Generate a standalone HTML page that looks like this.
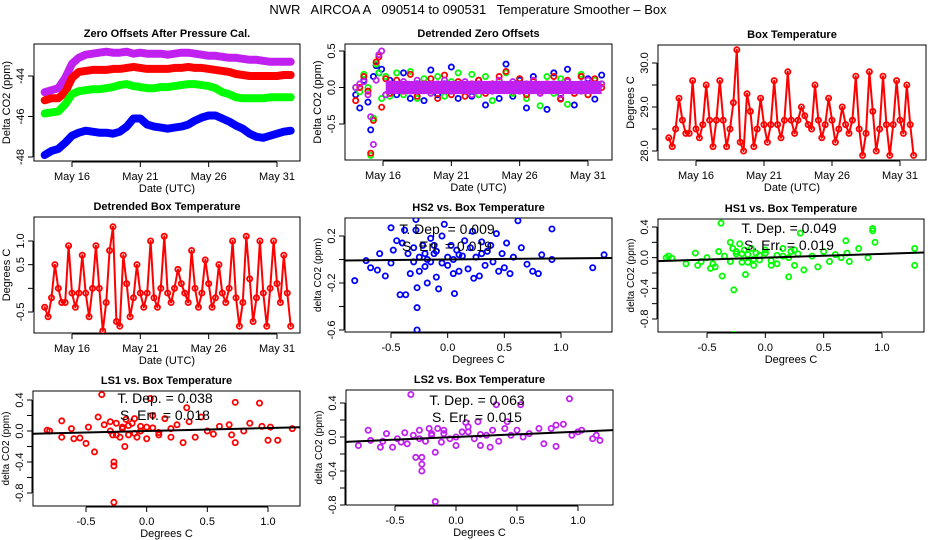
<!DOCTYPE html>
<html><head><meta charset="utf-8"><style>
html,body{margin:0;padding:0;background:#fff;}
svg{display:block;font-family:"Liberation Sans",sans-serif;}
</style></head><body>
<svg id="c" width="936" height="540" viewBox="0 0 936 540">
<text x="468" y="14" text-anchor="middle" font-size="13" style="white-space:pre">NWR   AIRCOA A   090514 to 090531   Temperature Smoother – Box</text>
</svg>
<script>
// ---- data ----
const zoStartDay = 14.0, zoStep = 0.5;
const zoPurple=[-44.8,-44.7,-44.6,-44.1,-43.4,-43.1,-42.95,-42.9,-42.85,-42.8,-42.85,-42.85,-42.8,-42.9,-42.85,-42.9,-42.9,-42.9,-42.95,-42.9,-42.85,-42.85,-42.9,-42.95,-43.0,-43.0,-43.05,-43.1,-43.1,-43.15,-43.2,-43.2,-43.25,-43.3,-43.3,-43.3,-43.3];
const zoRed=[-45.2,-45.1,-45.1,-44.8,-44.1,-43.8,-43.75,-43.7,-43.7,-43.7,-43.65,-43.65,-43.6,-43.55,-43.6,-43.65,-43.65,-43.65,-43.65,-43.6,-43.6,-43.55,-43.6,-43.6,-43.65,-43.7,-43.75,-43.8,-43.9,-43.95,-44.0,-44.0,-44.0,-44.0,-44.0,-43.95,-43.95];
const zoGreen=[-45.85,-45.8,-45.75,-45.4,-44.9,-44.75,-44.7,-44.65,-44.65,-44.6,-44.55,-44.45,-44.4,-44.5,-44.55,-44.6,-44.6,-44.55,-44.55,-44.5,-44.45,-44.4,-44.4,-44.45,-44.5,-44.6,-44.8,-44.9,-45.05,-45.1,-45.1,-45.1,-45.1,-45.05,-45.05,-45.05,-45.05];
const zoBlue=[-47.9,-47.7,-47.6,-47.3,-46.95,-46.8,-46.7,-46.75,-46.8,-46.8,-46.85,-46.75,-46.5,-46.1,-46.1,-46.4,-46.5,-46.55,-46.6,-46.55,-46.5,-46.4,-46.2,-46.05,-45.95,-45.95,-46.1,-46.25,-46.45,-46.6,-46.85,-47.0,-47.05,-46.95,-46.85,-46.75,-46.7];
const dzDays=[14.0,14.3,14.6,14.9,15.1,15.3,15.5,15.7,15.9,16.2,16.5,17.0,17.5,18.0,18.5,19.0,19.5,20.0,20.5,21.0,21.5,22.0,22.5,23.0,23.5,24.0,24.5,25.0,25.5,26.0,26.5,27.0,27.5,28.0,28.5,29.0,29.5,30.0,30.5,31.0,31.5,32.0];
const dzBlue=[-0.1,-0.28,0.1,-0.2,-0.58,0.15,0.3,0.2,0.25,-0.1,0.1,-0.1,0.2,-0.15,0.05,-0.18,0.24,-0.1,0.05,0.28,-0.15,0.0,-0.12,0.1,-0.24,0.0,-0.15,0.32,-0.12,0.1,-0.28,0.15,-0.05,-0.3,0.2,-0.15,0.25,-0.24,0.05,0.12,-0.16,0.17];
const dzRed=[-0.18,0.0,0.15,-0.05,-0.9,-0.45,0.35,0.42,-0.27,0.12,-0.08,0.1,-0.05,0.18,-0.12,0.05,0.12,-0.15,0.17,-0.1,0.08,-0.12,0.05,0.1,-0.08,0.05,0.15,0.22,-0.05,0.12,-0.1,0.08,-0.05,0.05,0.15,-0.16,0.1,-0.08,0.15,-0.1,0.12,0.0];
const dzGreen=[0.0,-0.06,0.18,0.0,-0.93,-0.42,0.32,0.2,-0.15,0.15,-0.12,0.2,-0.1,0.22,-0.15,0.12,-0.05,0.15,-0.12,0.08,0.2,-0.05,0.18,-0.1,0.15,-0.18,0.05,0.2,-0.08,0.12,-0.15,0.1,-0.25,0.15,-0.08,0.12,-0.23,0.0,0.18,-0.1,0.1,0.05];
const dzPurple=[0.0,0.05,0.08,-0.1,-0.4,-0.78,0.1,0.45,0.5,-0.1,0.05,0.0,0.08,-0.05,0.1,0.0,-0.08,0.05,0.1,-0.05,0.0,0.08,-0.1,0.05,0.0,-0.05,0.1,0.0,0.08,-0.05,0.05,0.1,-0.08,0.0,0.05,-0.1,0.08,0.0,-0.05,0.1,0.0,0.05];
const tStartDay=14.0, tStep=0.25;
const boxTemp=[28.3,28.1,28.5,29.2,28.7,28.4,28.4,29.6,28.5,28.3,28.6,29.5,28.7,28.1,28.7,29.6,28.7,28.1,28.5,29.1,30.3,28.2,28.0,29.3,28.9,28.1,28.5,29.2,28.6,28.2,28.6,29.6,28.6,28.3,28.7,29.8,28.7,28.4,28.7,29.0,28.8,28.6,28.5,29.5,28.7,28.3,28.6,29.2,28.7,28.2,28.5,29.0,28.6,28.4,28.7,29.7,28.5,27.9,28.4,29.8,28.9,28.0,28.5,29.7,28.6,27.9,28.6,29.6,28.7,28.4,29.5,28.6,27.9];
const detTemp=[-0.4,-0.6,-0.2,0.5,0.0,-0.3,-0.3,0.9,-0.1,-0.4,-0.1,0.7,-0.1,-0.6,0.0,0.9,0.0,-0.9,-0.3,0.8,1.3,-0.7,-0.8,0.7,0.1,-0.6,-0.2,0.5,-0.1,-0.4,-0.1,1.0,-0.2,-0.4,0.0,1.1,-0.1,-0.3,0.0,0.4,0.1,-0.1,-0.3,0.8,0.0,-0.4,-0.1,0.6,0.1,-0.4,-0.2,0.5,-0.1,-0.3,0.0,1.0,-0.2,-0.8,-0.3,1.1,0.2,-0.7,-0.2,1.0,-0.1,-0.8,0.0,1.0,0.1,-0.3,0.7,-0.1,-0.8];
const hs2x=[-0.82,-0.72,-0.68,-0.62,-0.6,-0.55,-0.5,-0.5,-0.48,-0.45,-0.42,-0.4,-0.38,-0.37,-0.35,-0.33,-0.3,-0.28,-0.28,-0.27,-0.27,-0.27,-0.25,-0.22,-0.2,-0.18,-0.15,-0.12,-0.1,-0.08,-0.05,-0.03,0.0,0.03,0.05,0.06,0.08,0.1,0.13,0.15,0.18,0.2,0.22,0.23,0.25,0.28,0.3,0.33,0.35,0.38,0.4,0.43,0.45,0.48,0.5,0.52,0.55,0.58,0.62,0.65,0.7,0.75,0.8,0.83,0.92,0.92,1.28,1.38,-0.2,-0.15,-0.1,-0.05,0.0,-0.25,-0.3,-0.12,0.1,0.3,-0.18,0.05];
const hs2y=[-0.18,-0.01,-0.07,-0.09,0.05,-0.14,0.27,-0.03,0.08,0.16,-0.3,0.14,0.25,-0.3,0.05,-0.12,0.1,0.34,0.25,-0.41,-0.6,-0.24,0.02,0.12,-0.06,-0.2,0.18,0.05,-0.15,-0.25,0.2,0.3,-0.05,0.12,-0.12,-0.29,0.08,-0.1,0.03,0.16,-0.08,0.1,0.24,-0.16,0.02,-0.14,0.15,-0.05,0.07,0.12,-0.02,0.22,-0.1,0.05,-0.07,0.14,-0.12,0.02,0.33,0.1,-0.04,-0.1,-0.12,0.04,0.26,0.0,-0.07,0.04,0.05,-0.02,0.07,-0.03,0.02,-0.1,-0.02,0.12,0.04,0.05,0.0,0.0];
const hs1x=[-0.85,-0.83,-0.8,-0.68,-0.6,-0.58,-0.55,-0.5,-0.47,-0.45,-0.43,-0.4,-0.38,-0.37,-0.35,-0.3,-0.28,-0.27,-0.27,-0.25,-0.22,-0.2,-0.18,-0.17,-0.15,-0.12,-0.1,-0.08,-0.05,0.0,0.05,0.1,0.15,0.2,0.22,0.25,0.28,0.3,0.33,0.4,0.45,0.5,0.55,0.6,0.65,0.69,0.7,0.72,0.8,0.88,0.92,0.92,0.94,1.28,1.28,-0.3,-0.2,-0.1,0.0,0.1,0.2,-0.25,-0.15,-0.05,0.05,0.15,0.25];
const hs1y=[0.0,0.02,-0.01,-0.08,0.06,-0.1,-0.05,0.0,-0.14,-0.08,-0.12,0.08,0.45,-0.24,0.02,0.2,0.12,-0.42,-1.0,0.05,0.18,-0.06,0.1,-0.22,0.04,0.12,-0.1,0.06,-0.03,0.1,-0.04,0.03,0.12,-0.25,0.08,-0.1,0.05,0.32,-0.16,0.02,-0.12,0.08,-0.05,0.04,0.0,0.22,0.06,-0.05,0.12,0.0,0.38,0.35,0.2,0.12,-0.1,-0.05,0.05,-0.02,0.06,-0.08,0.0,0.08,-0.06,0.03,-0.1,0.02,0.1];
const ls1x=[-0.82,-0.8,-0.7,-0.7,-0.62,-0.6,-0.55,-0.5,-0.48,-0.43,-0.4,-0.37,-0.35,-0.3,-0.28,-0.27,-0.27,-0.27,-0.25,-0.22,-0.2,-0.18,-0.17,-0.15,-0.12,-0.1,-0.08,-0.05,0.0,0.03,0.05,0.1,0.15,0.2,0.25,0.3,0.33,0.35,0.4,0.45,0.5,0.55,0.6,0.68,0.7,0.73,0.73,0.8,0.85,0.93,0.95,1.0,1.02,1.08,1.2,-0.3,-0.2,-0.1,0.0,0.1,0.2,-0.25,-0.15,-0.05,0.05];
const ls1y=[0.01,0.0,0.13,-0.08,0.03,-0.1,-0.09,-0.16,0.05,-0.27,0.18,0.47,0.08,0.12,-0.05,-0.4,-0.45,-0.92,0.1,-0.08,0.05,-0.2,0.15,-0.05,0.1,0.16,-0.08,0.06,-0.1,0.42,0.2,-0.05,0.16,-0.08,0.08,-0.15,0.3,0.12,-0.08,0.18,0.0,-0.04,0.06,0.08,-0.05,0.37,-0.15,0.0,0.1,0.36,0.06,-0.12,0.05,-0.12,0.03,0.0,0.03,-0.03,0.05,-0.02,0.03,-0.05,0.07,0.0,0.04];
const ls2x=[-0.8,-0.72,-0.7,-0.62,-0.6,-0.57,-0.52,-0.48,-0.45,-0.42,-0.4,-0.37,-0.35,-0.33,-0.3,-0.28,-0.28,-0.28,-0.25,-0.22,-0.2,-0.17,-0.17,-0.15,-0.12,-0.1,-0.05,0.0,0.05,0.08,0.1,0.15,0.18,0.2,0.25,0.28,0.3,0.33,0.35,0.4,0.42,0.45,0.5,0.53,0.55,0.6,0.68,0.72,0.78,0.82,0.82,0.88,0.93,0.95,1.0,1.03,1.12,1.15,1.18,-0.3,-0.2,-0.1,0.0,0.1,0.2];
const ls2y=[-0.1,0.08,-0.04,-0.12,-0.05,0.04,-0.12,-0.02,-0.06,0.05,-0.08,0.5,0.02,-0.24,0.08,-0.4,-0.32,-0.24,-0.05,0.1,0.04,-0.76,-0.18,0.1,-0.06,0.08,-0.02,-0.1,0.06,0.17,0.12,-0.02,0.18,-0.1,0.02,-0.12,0.08,0.38,-0.05,0.1,0.18,0.02,0.08,0.38,0.0,0.04,0.1,-0.08,0.1,0.14,-0.11,0.15,0.45,0.02,0.06,0.08,-0.02,0.02,-0.04,-0.02,0.02,0.04,0.0,0.06,0.03];
const slopes=[0.009,0.049,0.038,0.063];
const stdErrs=[0.019,0.019,0.018,0.015];
const intercepts=[0.0,0.0,0.0,0.0];
const dateTicks=[16,21,26,31];
const dateTickLabels=["May 16","May 21","May 26","May 31"];
const degTicks=[-0.5,0,0.5,1.0];
const degTickLabels=["-0.5","0.0","0.5","1.0"];

// ---- drawing ----
const svg=document.getElementById('c');
const NS='http://www.w3.org/2000/svg';
function el(tag,attrs,parent){const e=document.createElementNS(NS,tag);for(const k in attrs)e.setAttribute(k,attrs[k]);(parent||svg).appendChild(e);return e;}
function lin(v0,p0,v1,p1){return v=>p0+(v-v0)*(p1-p0)/(v1-v0);}

function panel(cfg){
  const g=el('g',{});
  
  
  const b=cfg.box;
  const fx=lin(...cfg.xm), fy=lin(...cfg.ym);
  const r=el('rect',{x:b[0],y:b[1],width:b[2]-b[0],height:b[3]-b[1],fill:'none',stroke:'#000','stroke-width':1},g);
  
  
  const t=el('text',{x:(b[0]+b[2])/2,y:b[1]-7,'text-anchor':'middle','font-size':11,'font-weight':'bold'},g);
  t.textContent=cfg.title;
  
  
  const xs=cfg.xt.map(fx);
  el('line',{x1:xs[0],x2:xs[xs.length-1],y1:b[3]+1,y2:b[3]+1,stroke:'#000'},g);
  cfg.xt.forEach((v,i)=>{
    const x=fx(v);
    el('line',{x1:x,x2:x,y1:b[3]+1,y2:b[3]+6,stroke:'#000'},g);
    const tl=el('text',{x:x,y:b[3]+19,'text-anchor':'middle','font-size':11},g);
    tl.textContent=cfg.xl[i];
    
    
  });
  const xt=el('text',{x:(b[0]+b[2])/2,y:b[3]+31,'text-anchor':'middle','font-size':11},g);
  xt.textContent=cfg.xtitle;
  
  
  const ys=cfg.yt.map(fy);
  el('line',{x1:b[0]-1,x2:b[0]-1,y1:Math.min(...ys),y2:Math.max(...ys),stroke:'#000'},g);
  cfg.yt.forEach((v,i)=>{
    const y=fy(v);
    el('line',{x1:b[0]-6,x2:b[0]-1,y1:y,y2:y,stroke:'#000'},g);
    if(cfg.yl[i]){
      const tl=el('text',{x:0,y:0,'text-anchor':'middle','font-size':11,transform:`translate(${b[0]-10},${y}) rotate(-90)`},g);
      tl.textContent=cfg.yl[i];
      
      
    }
  });
  const yt=el('text',{x:0,y:0,'text-anchor':'middle','font-size':cfg.ytsize||11,transform:`translate(${b[0]-24},${(b[1]+b[3])/2}) rotate(-90)`},g);
  yt.textContent=cfg.ytitle;
  
  
  const clip='clip'+cfg.name;
  const cp=el('clipPath',{id:clip},g);
  el('rect',{x:b[0],y:b[1],width:b[2]-b[0],height:b[3]-b[1]},cp);
  const pg=el('g',{'clip-path':`url(#${clip})`},g);
  return {g:pg,fx,fy};
}
function series(p,xsArr,ysArr,color,name,band,bandFrom){
  const n=Math.min(xsArr.length,ysArr.length);
  if(band){
    let d='';
    const s0=bandFrom||0;
    for(let i=s0;i<n;i++)d+=(i>s0?'L':'M')+p.fx(xsArr[i]).toFixed(1)+' '+p.fy(ysArr[i]).toFixed(1);
    const l=el('path',{d:d,fill:'none',stroke:color,'stroke-width':band,'stroke-linejoin':'round','stroke-linecap':'round'},p.g);
    
    
  }
  for(let i=0;i<n;i++){
    const c=el('circle',{cx:p.fx(xsArr[i]),cy:p.fy(ysArr[i]),r:2.6,fill:'none',stroke:color,'stroke-width':1.8},p.g);
    
    
  }
}
const range=(s,st,n)=>Array.from({length:n},(_,i)=>s+i*st);

// Panel 1
let p=panel({name:'zero-offsets-panel',title:'Zero Offsets After Pressure Cal.',box:[34,44,300,161],xm:[16,72,31,277],ym:[-44,76,-48,157],xt:dateTicks,xl:dateTickLabels,yt:[-48,-46,-44],yl:['-48','-46','-44'],xtitle:'Date (UTC)',ytitle:'Delta CO2 (ppm)'});
const zoDays=range(zoStartDay,zoStep,zoPurple.length);
series(p,zoDays,zoPurple,'#c020f0','purple-ls2',8);
series(p,zoDays,zoRed,'#ff0000','red-ls1',8);
series(p,zoDays,zoGreen,'#00ff00','green-hs1',8);
series(p,zoDays,zoBlue,'#0000ff','blue-hs2',8);

// Panel 2
p=panel({name:'detrended-zero-offsets-panel',title:'Detrended Zero Offsets',box:[345,44,612,160],xm:[16,383,31,588],ym:[0.5,51,-0.5,124],xt:dateTicks,xl:dateTickLabels,yt:[-0.5,0,0.5],yl:['-0.5','0.0','0.5'],xtitle:'Date (UTC)',ytitle:'Delta CO2 (ppm)'});
series(p,dzDays,dzBlue,'#0000ff','blue-hs2',0);
series(p,dzDays,dzGreen,'#00ff00','green-hs1',0);
series(p,dzDays,dzRed,'#ff0000','red-ls1',0);
series(p,dzDays,dzPurple,'#c020f0','purple-ls2',0);
// dense noise band (purple over red) drawn along the zero line after the initial spike
const bandG=el('rect',{x:p.fx(dzDays[9]),y:p.fy(0.09),width:p.fx(dzDays[dzDays.length-1])-p.fx(dzDays[9]),height:p.fy(-0.09)-p.fy(0.09),fill:'#c020f0'},p.g);



// Panel 3
p=panel({name:'box-temperature-panel',title:'Box Temperature',box:[658,45,926,160],xm:[16,696,31,900],ym:[30,63,28,151],xt:dateTicks,xl:dateTickLabels,yt:[28,28.5,29,29.5,30],yl:['28.0','','29.0','','30.0'],xtitle:'Date (UTC)',ytitle:'Degrees C'});
series(p,range(tStartDay,tStep,boxTemp.length),boxTemp,'#ff0000','box-temp',2);

// Panel 4
p=panel({name:'detrended-box-temperature-panel',title:'Detrended Box Temperature',box:[34,217,300,333],xm:[16,72,31,277],ym:[1.0,241,-0.5,312],xt:dateTicks,xl:dateTickLabels,yt:[-0.5,0,0.5,1.0],yl:['-0.5','','0.5','1.0'],xtitle:'Date (UTC)',ytitle:'Degrees C'});
series(p,range(tStartDay,tStep,detTemp.length),detTemp,'#ff0000','detrended-temp',2);

function scatterPanel(cfg,xs,ys,color,idx,tx,ty){
  const sp=panel(Object.assign({xt:degTicks,xl:degTickLabels,xtitle:'Degrees C',ytitle:'delta CO2 (ppm)',ytsize:10},cfg));
  series(sp,xs,ys,color,cfg.name.replace('-panel',''),0);
  const xa=cfg.xm[0]-2, xb=cfg.xm[2]+2;
  const rl=el('line',{x1:sp.fx(xa),y1:sp.fy(intercepts[idx]+slopes[idx]*xa),x2:sp.fx(xb),y2:sp.fy(intercepts[idx]+slopes[idx]*xb),stroke:'#000','stroke-width':2},sp.g);
  
  
  const a=el('text',{x:tx,y:ty,'text-anchor':'middle','font-size':14},sp.g.parentNode);
  a.textContent='T. Dep. =  '+slopes[idx].toFixed(3);
  
  
  const s=el('text',{x:tx,y:ty+17,'text-anchor':'middle','font-size':14},sp.g.parentNode);
  s.textContent='S. Err. = '+stdErrs[idx].toFixed(3);
  
  
}
scatterPanel({name:'hs2-scatter-panel',title:'HS2 vs. Box Temperature',box:[345,218,612,332],xm:[-0.5,391,1.0,561],ym:[0.2,236,-0.6,330],yt:[-0.6,-0.4,-0.2,0,0.2],yl:['-0.6','','-0.2','','0.2']},hs2x,hs2y,'#0000ff',0,447,234);
scatterPanel({name:'hs1-scatter-panel',title:'HS1 vs. Box Temperature',box:[658,219,924,332],xm:[-0.5,707,1.0,882],ym:[0.4,227,-0.8,319],yt:[-0.8,-0.6,-0.4,-0.2,0,0.2,0.4],yl:['-0.8','','-0.4','','0.0','','0.4']},hs1x,hs1y,'#00ff00',1,789,233);
scatterPanel({name:'ls1-scatter-panel',title:'LS1 vs. Box Temperature',box:[33,391,300,506],xm:[-0.5,86,1.0,268],ym:[0.4,400,-0.8,493],yt:[-0.8,-0.6,-0.4,-0.2,0,0.2,0.4],yl:['-0.8','','-0.4','','0.0','','0.4']},ls1x,ls1y,'#ff0000',2,165,403);
scatterPanel({name:'ls2-scatter-panel',title:'LS2 vs. Box Temperature',box:[346,390,613,505],xm:[-0.5,395,1.0,578],ym:[0.4,403,-0.8,505],yt:[-0.8,-0.6,-0.4,-0.2,0,0.2,0.4],yl:['-0.8','','-0.4','','0.0','','0.4']},ls2x,ls2y,'#c020f0',3,477,405);
</script>
</body></html>
